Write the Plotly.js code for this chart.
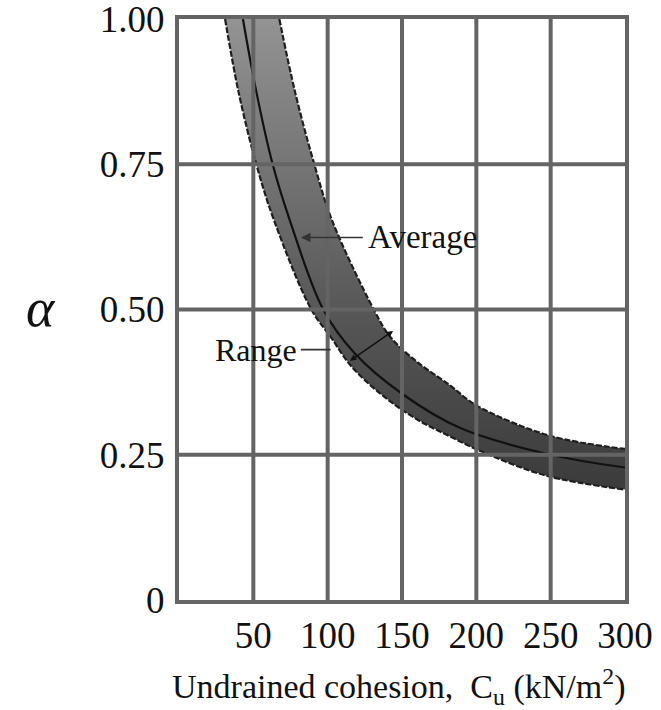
<!DOCTYPE html>
<html>
<head>
<meta charset="utf-8">
<script src="https://cdn.plot.ly/plotly-3.0.1.min.js"></script>
<style>html,body{margin:0;padding:0;background:#fff;}#chart{width:661px;height:710px;}</style>
</head>
<body>
<div id="chart"></div>
<script>
// Undrained cohesion Cu (kN/m2) vs adhesion factor alpha
const upperX = [67.5, 78, 91, 103, 131, 142, 160, 182, 200, 249, 300];
const upperY = [1.0, 0.875, 0.75, 0.653, 0.5, 0.453, 0.41, 0.37, 0.335, 0.283, 0.26];
const lowerX = [31, 40, 52, 64, 89, 102, 116, 138, 160, 182, 204, 247, 300];
const lowerY = [1.0, 0.875, 0.75, 0.653, 0.5, 0.453, 0.402, 0.35, 0.311, 0.282, 0.255, 0.214, 0.19];
const avgX = [43, 52, 63, 75, 97, 118, 150, 190, 250, 300];
const avgY = [1.0, 0.875, 0.75, 0.65, 0.5, 0.425, 0.355, 0.295, 0.25, 0.228];

const xTickVals = [50, 100, 150, 200, 250, 300];
const xTickText = ['50', '100', '150', '200', '250', '300'];
const yTickVals = [0, 0.25, 0.5, 0.75, 1.0];
const yTickText = ['0', '0.25', '0.50', '0.75', '1.00'];

const xTitle = 'Undrained cohesion,  C<sub>u</sub> (kN/m<sup>2</sup>)';
const yTitle = '<i>α</i>';

const avgLabel = {text: 'Average', x: 164, y: 0.624, tipX: 82};
const rangeLabel = {text: 'Range', x: 52, y: 0.431, tipX: 102};
const rangeSpan = {x0: 114, y0: 0.41, x1: 144, y1: 0.463};

const gridColor = '#646464';
const serif = 'Liberation Serif, Times New Roman, serif';

const traces = [
  {
    x: lowerX, y: lowerY, type: 'scatter', mode: 'lines',
    line: {color: '#1e1e1e', width: 2.2, dash: '6px,2px', shape: 'spline', smoothing: 1},
    hoverinfo: 'skip', showlegend: false
  },
  {
    x: upperX, y: upperY, type: 'scatter', mode: 'lines', fill: 'tonexty',
    line: {color: '#1e1e1e', width: 2.2, dash: '6px,2px', shape: 'spline', smoothing: 1},
    fillgradient: {type: 'vertical', start: 0.2, stop: 1.0,
      colorscale: [[0, '#3c3c3c'], [0.35, '#555555'], [1, '#939393']]},
    hoverinfo: 'skip', showlegend: false
  },
  {
    x: avgX, y: avgY, type: 'scatter', mode: 'lines',
    line: {color: '#111', width: 2.2, shape: 'spline', smoothing: 1},
    showlegend: false
  }
];

const shapes = [];
xTickVals.slice(0, -1).forEach(v => shapes.push({
  type: 'line', xref: 'x', yref: 'paper', x0: v, x1: v, y0: 0, y1: 1,
  line: {color: gridColor, width: 4}, layer: 'above'
}));
yTickVals.slice(1, -1).forEach(v => shapes.push({
  type: 'line', xref: 'paper', yref: 'y', x0: 0, x1: 1, y0: v, y1: v,
  line: {color: gridColor, width: 4}, layer: 'above'
}));

const annotations = [
  {
    x: avgLabel.tipX, y: avgLabel.y, ax: avgLabel.x, ay: avgLabel.y,
    xref: 'x', yref: 'y', axref: 'x', ayref: 'y',
    text: avgLabel.text, showarrow: true, arrowhead: 2, arrowsize: 1.2,
    arrowwidth: 1.6, arrowcolor: '#333', standoff: 0, startstandoff: 4,
    font: {family: serif, size: 33, color: '#111'}
  },
  {
    x: rangeLabel.tipX, y: rangeLabel.y, ax: rangeLabel.x, ay: rangeLabel.y,
    xref: 'x', yref: 'y', axref: 'x', ayref: 'y',
    text: rangeLabel.text, showarrow: true, arrowhead: 0,
    arrowwidth: 1.6, arrowcolor: '#333', standoff: 0, startstandoff: 2,
    font: {family: serif, size: 32, color: '#111'}
  },
  {
    x: rangeSpan.x1, y: rangeSpan.y1, ax: rangeSpan.x0, ay: rangeSpan.y0,
    xref: 'x', yref: 'y', axref: 'x', ayref: 'y',
    text: ' ', showarrow: true, arrowhead: 2, arrowside: 'end+start', arrowsize: 0.8,
    arrowwidth: 1.6, arrowcolor: '#111', standoff: 0, startstandoff: 0,
    font: {size: 1}
  },
  {
    text: yTitle, xref: 'paper', yref: 'paper', x: -0.31, y: 0.503,
    xanchor: 'center', yanchor: 'middle', showarrow: false,
    font: {family: serif, size: 54, color: '#111'}
  },
  {
    text: xTitle, xref: 'paper', yref: 'paper', x: 0.492, y: -0.149,
    xanchor: 'center', yanchor: 'middle', showarrow: false,
    font: {family: serif, size: 34, color: '#111'}
  }
];

const layout = {
  width: 661, height: 710,
  margin: {l: 179, r: 36, t: 19, b: 110, pad: 0},
  paper_bgcolor: '#fff', plot_bgcolor: '#fff',
  showlegend: false,
  xaxis: {
    range: [0, 300], tickvals: xTickVals, ticktext: xTickText,
    showgrid: false, zeroline: false, showline: true, mirror: true,
    linecolor: gridColor, linewidth: 4, ticks: '', layer: 'above traces',
    tickfont: {family: serif, size: 37, color: '#111'},
    ticklabelstandoff: 0, ticklabeloverflow: 'allow'
  },
  yaxis: {
    range: [0, 1], tickvals: yTickVals, ticktext: yTickText,
    showgrid: false, zeroline: false, showline: true, mirror: true,
    linecolor: gridColor, linewidth: 4, ticks: '', layer: 'above traces',
    tickfont: {family: serif, size: 37, color: '#111'},
    ticklabelstandoff: 3, ticklabeloverflow: 'allow'
  },
  shapes: shapes,
  annotations: annotations
};

Plotly.newPlot('chart', traces, layout, {staticPlot: true, displayModeBar: false});
</script>
</body>
</html>
